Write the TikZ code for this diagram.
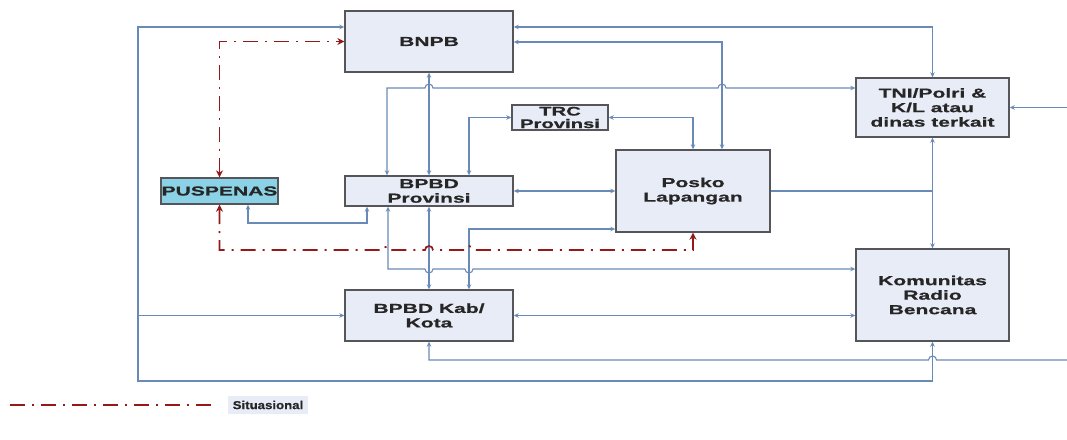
\documentclass[tikz,border=0pt]{standalone}
\usepackage{fontspec}
\usepackage{xcolor}
\usepackage{tikz}
\usetikzlibrary{arrows.meta}
\newfontfamily\boxfont{Liberation Sans}[FakeStretch=1.62, FakeBold=0.6]
\newfontfamily\legfont{Liberation Sans}[FakeStretch=1.15, FakeBold=0.6]
\definecolor{boxfill}{RGB}{232,236,247}
\definecolor{boxline}{RGB}{85,85,90}
\definecolor{linkblue}{RGB}{105,138,182}
\definecolor{puspfill}{RGB}{140,210,230}
\definecolor{sitred}{RGB}{150,25,25}

\begin{document}
\begin{tikzpicture}[
  x=1pt, y=-1pt,
  font=\boxfont\bfseries\fontsize{13}{14.5}\selectfont,
  box/.style={draw=boxline, fill=boxfill, line width=1.4pt, align=center,
              inner sep=0pt, text=black!85},
  link/.style={draw=linkblue, line width=1.1pt,
               arrows={-}, >={Stealth[length=5pt,width=4.5pt]}},
  sit/.style={draw=sitred, line width=1.7pt,
              dash pattern=on 15pt off 7pt on 2pt off 7pt,
              >={Stealth[length=7pt,width=7pt]}}]

  \useasboundingbox (0,0) rectangle (1067,439);

  % boxes
  \node[box, minimum width=168pt, minimum height=61pt] (bnpb) at (429,41.5) {BNPB};
  \node[box, minimum width=96pt, minimum height=25pt,
        font=\boxfont\bfseries\fontsize{12.5}{12.5}\selectfont] (trc) at (560,117.5)
    {TRC\\Provinsi};
  \node[box, minimum width=154pt, minimum height=82pt] (posko) at (693,191)
    {Posko\\Lapangan};
  \node[box, minimum width=153pt, minimum height=59pt] (tni) at (932.5,107.5)
    {TNI/Polri \&\\K/L atau\\dinas terkait};
  \node[box, minimum width=153pt, minimum height=92pt] (komunitas) at (932.5,295)
    {Komunitas\\Radio\\Bencana};
  \node[box, minimum width=168pt, minimum height=30pt] (bpbdprov) at (429,191)
    {BPBD\\Provinsi};
  \node[box, minimum width=168pt, minimum height=51pt] (bpbdkab) at (429,315.5)
    {BPBD Kab/\\Kota};
  \node[box, fill=puspfill, minimum width=117pt, minimum height=26pt] (puspenas)
    at (219.5,191) {PUSPENAS};

  % free ends on the right
  \coordinate (rtop) at (1067,107.5);
  \coordinate (rbot) at (1067,360);
  \coordinate (loop) at (138,315.5);

  % blue links
  \draw[link, <->] (bnpb.west |- 0,27) -- (138,27) -- (138,381)
    -| (komunitas.south);
  \draw[link, ->] (loop) -- (bpbdkab.west);
  \draw[link, ->] (rbot) -- (936.5,360) arc[start angle=0, end angle=-180, radius=4]
    -- (429,360) -- (bpbdkab.south);
  \draw[link, ->] (rtop) -- (tni.east);
  \draw[link, <->] (bnpb.east |- 0,27) -| (tni.north);
  \draw[link, <->] (bnpb.east |- 0,42) -| (posko.north -| 722,0);
  \draw[link, <->] (bpbdprov.north -| 387,0) -- (387,88)
    -- (425,88) arc[start angle=180, end angle=360, radius=4]
    -- (718,88) arc[start angle=180, end angle=360, radius=4]
    -- (tni.west |- 0,88);
  \draw[link, <->] (bnpb) -- (bpbdprov);
  \draw[link, <->] (trc.west) -| (bpbdprov.north -| 469,0);
  \draw[link, <->] (trc.east) -| (posko.north);
  \draw[link, <->] (bpbdprov) -- (posko);
  \draw[link, <->] (puspenas.south -| 248,0) |- (367,223)
    -- (bpbdprov.south -| 367,0);
  \draw[link, <->] (bpbdprov.south -| 388,0) -- (388,269)
    -- (425,269) arc[start angle=180, end angle=0, radius=4]
    -- (465,269) arc[start angle=180, end angle=0, radius=4]
    -- (komunitas.west |- 0,269);
  \draw[link, <->] (bpbdprov) -- (bpbdkab);
  \draw[link, <->] (posko.west |- 0,229) -| (bpbdkab.north -| 469,0);
  \draw[link, <->] (tni) -- (komunitas);
  \draw[link] (posko.east) -- (posko.east -| tni.south);
  \draw[link, <->] (bpbdkab.east) -- (bpbdkab.east -| komunitas.west);

  % situasional
  \draw[sit, <->] (puspenas.north) |- (bnpb.west);
  \draw[sit, <->] (puspenas.south) -- (puspenas.south |- 0,250)
    -- (384,250) arc[start angle=180, end angle=360, radius=4]
    -- (425,250) arc[start angle=180, end angle=360, radius=4]
    -- (465,250) arc[start angle=180, end angle=360, radius=4]
    -- (693,250) -- (posko.south);

  % legend
  \node[fill=boxfill, minimum width=80pt, minimum height=18pt, inner sep=0pt,
        font=\legfont\bfseries\fontsize{11.5}{13}\selectfont, text=black!85]
    (legend) at (268,405) {Situasional};
  \coordinate (legstart) at (10,405);
  \draw[sit] (legstart) -- ([xshift=-10pt]legend.west);
\end{tikzpicture}
\end{document}
